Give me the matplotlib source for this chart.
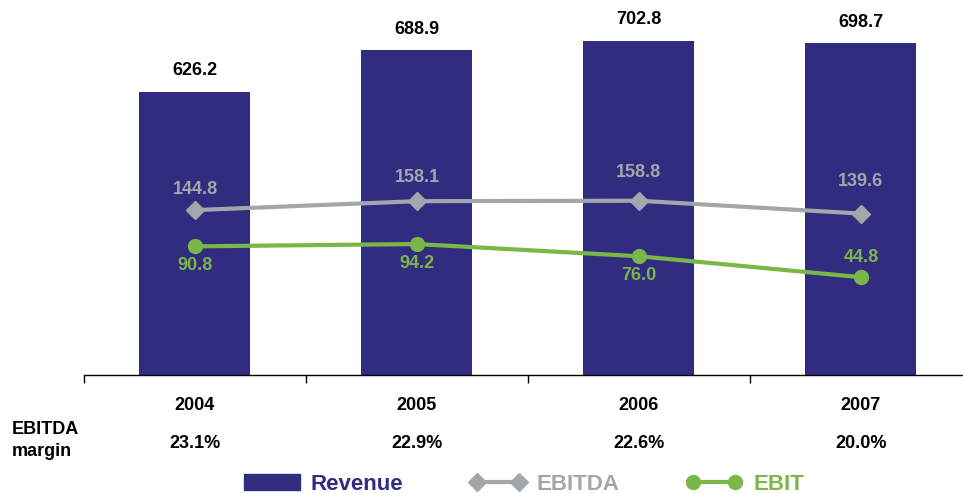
import matplotlib.pyplot as plt
import numpy as np
from matplotlib.patches import Patch
from matplotlib.lines import Line2D

years = ["2004", "2005", "2006", "2007"]
revenue = [626.2, 688.9, 702.8, 698.7]
ebitda = [144.8, 158.1, 158.8, 139.6]
ebit = [90.8, 94.2, 76.0, 44.8]
margins = ["23.1%", "22.9%", "22.6%", "20.0%"]

NAVY = "#312c80"
GREY = "#a1a7ab"
GREEN = "#7ab648"

plt.rcParams["font.family"] = ["Liberation Sans", "DejaVu Sans"]
plt.rcParams["font.weight"] = "bold"

fig = plt.figure(figsize=(9.63, 4.93), dpi=100)
ax = fig.add_axes([84 / 963, 118 / 493, 879 / 963, 375 / 493])
x = np.arange(len(years))

ax.bar(x, revenue, width=0.5, color=NAVY, zorder=1)
ax.set_ylim(201, 764)
ax.set_xlim(-0.5, 3.46)
for xi, v in zip(x, revenue):
    ax.annotate(f"{v:.1f}", (xi, v), xytext=(0, 9), textcoords="offset points",
                ha="center", va="bottom", fontsize=13, fontweight="bold", color="black")

ax2 = ax.twinx()
ax2.set_ylim(-101, 458)
ax2.plot(x, ebitda, color=GREY, lw=3, marker="D", ms=9, zorder=3)
ax2.plot(x, ebit, color=GREEN, lw=3, marker="o", ms=10, zorder=3)

ebitda_off = [-15, -17, -20, -23]
ebit_off = [14, 14, 14, -14]
for xi, v, o in zip(x, ebitda, ebitda_off):
    ax2.annotate(f"{v:.1f}", (xi, v), xytext=(0, -o), textcoords="offset points",
                 ha="center", va="center", fontsize=13, fontweight="bold", color=GREY)
for xi, v, o in zip(x, ebit, ebit_off):
    ax2.annotate(f"{v:.1f}", (xi, v), xytext=(0, -o), textcoords="offset points",
                 ha="center", va="center", fontsize=13, fontweight="bold", color=GREEN)

for a in (ax, ax2):
    for s in ("top", "right", "left"):
        a.spines[s].set_visible(False)
    a.set_yticks([])
ax.spines["bottom"].set_color("black")
ax.spines["bottom"].set_linewidth(1.0)
ax2.spines["bottom"].set_visible(False)

ax.set_xticks([-0.5, 0.5, 1.5, 2.5])
ax.set_xticklabels([])
ax.tick_params(axis="x", direction="out", length=6, width=1, color="black")

for xi, yr, m in zip(x, years, margins):
    ax.annotate(yr, (xi, 0), xycoords=("data", "axes fraction"), xytext=(0, -22),
                textcoords="offset points", ha="center", va="center",
                fontsize=13, fontweight="bold")
    ax.annotate(m, (xi, 0), xycoords=("data", "axes fraction"), xytext=(0, -49),
                textcoords="offset points", ha="center", va="center",
                fontsize=13, fontweight="bold")

fig.text(12 / 963, 1 - 430 / 493, "EBITDA", ha="left", va="center", fontsize=13, fontweight="bold")
fig.text(12 / 963, 1 - 452 / 493, "margin", ha="left", va="center", fontsize=13, fontweight="bold")

handles = [
    Patch(facecolor=NAVY, edgecolor=NAVY),
    Line2D([], [], color=GREY, lw=3, marker="D", ms=9),
    Line2D([], [], color=GREEN, lw=3, marker="o", ms=10),
]
leg = fig.legend(handles, ["Revenue", "EBITDA", "EBIT"], loc="center",
                 bbox_to_anchor=(524 / 963, 1 - 484 / 493), ncol=3, frameon=False,
                 prop={"size": 16, "weight": "bold"}, handlelength=2.5, numpoints=2,
                 handletextpad=0.5, columnspacing=3.0, borderpad=0)
for t, c in zip(leg.get_texts(), [NAVY, GREY, GREEN]):
    t.set_color(c)

fig.savefig("out.png", dpi=100)
